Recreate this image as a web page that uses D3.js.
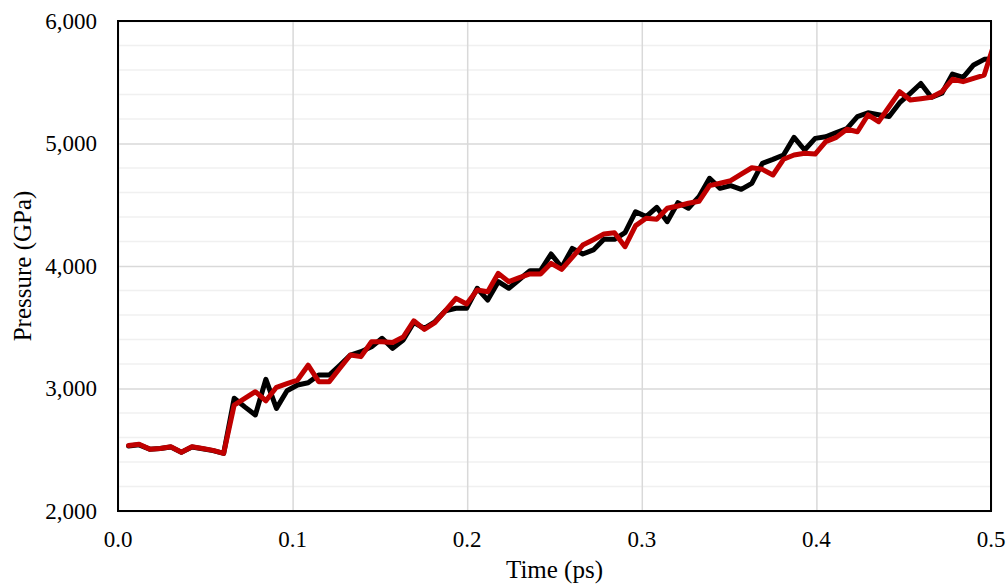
<!DOCTYPE html>
<html>
<head>
<meta charset="utf-8">
<script src="https://cdn.jsdelivr.net/npm/d3@7"></script>
<style>
	body { margin: 0; background: #fff; }
	text { font-family: "Liberation Serif", "Times New Roman", serif; fill: #000; }
	.tick-label { font-size: 23px; }
	.axis-title { font-size: 25px; }
</style>
</head>
<body>
<div id="svg"></div>
<script>
/* jshint esversion: 6 */

// Time (ps), one sample every ~6 fs
const times = [
	0.00605, 0.0121, 0.01815, 0.0242, 0.03025, 0.0363, 0.04235, 0.0484, 0.05445, 0.0605,
	0.06655, 0.0726, 0.07865, 0.0847, 0.09075, 0.0968, 0.10285, 0.1089, 0.11495, 0.121,
	0.12705, 0.1331, 0.13915, 0.1452, 0.15125, 0.1573, 0.16335, 0.1694, 0.17545, 0.1815,
	0.18755, 0.1936, 0.19965, 0.2057, 0.21175, 0.2178, 0.22385, 0.2299, 0.23595, 0.242,
	0.24805, 0.2541, 0.26015, 0.2662, 0.27225, 0.2783, 0.28435, 0.2904, 0.29645, 0.3025,
	0.30855, 0.3146, 0.32065, 0.3267, 0.33275, 0.3388, 0.34485, 0.3509, 0.35695, 0.363,
	0.36905, 0.3751, 0.38115, 0.3872, 0.39325, 0.3993, 0.40535, 0.4114, 0.41745, 0.4235,
	0.42955, 0.4356, 0.44165, 0.4477, 0.45375, 0.4598, 0.46585, 0.4719, 0.47795, 0.484,
	0.49005, 0.4961, 0.50215
];

// Pressure (GPa), black series
const pressureBlack = [
	2530, 2540, 2505, 2510, 2522, 2480, 2522, 2508, 2493, 2470,
	2920, 2850, 2784, 3075, 2838, 2982, 3029, 3047, 3110, 3110,
	3190, 3273, 3300, 3340, 3410, 3328, 3396, 3540, 3490, 3545,
	3635, 3655, 3655, 3818, 3722, 3872, 3818, 3890, 3962, 3962,
	4098, 3989, 4144, 4098, 4131, 4218, 4218, 4272, 4443, 4403,
	4479, 4362, 4517, 4471, 4566, 4716, 4634, 4656, 4626, 4675,
	4838, 4870, 4906, 5050, 4947, 5042, 5055, 5090, 5122, 5220,
	5251, 5235, 5220, 5333, 5410, 5490, 5377, 5410, 5567, 5540,
	5641, 5687, 5690
];

// Pressure (GPa), red series
const pressureRed = [
	2535, 2545, 2505, 2510, 2525, 2480, 2525, 2510, 2495, 2470,
	2865, 2920, 2974, 2900, 3010, 3040, 3069, 3190, 3056, 3056,
	3165, 3273, 3260, 3382, 3382, 3375, 3420, 3553, 3483, 3537,
	3636, 3736, 3690, 3804, 3790, 3940, 3872, 3905, 3935, 3935,
	4022, 3973, 4070, 4171, 4215, 4261, 4272, 4158, 4330, 4390,
	4382, 4471, 4490, 4512, 4528, 4656, 4676, 4696, 4750, 4802,
	4789, 4743, 4871, 4906, 4920, 4914, 5015, 5050, 5116, 5096,
	5233, 5178, 5300, 5423, 5355, 5366, 5377, 5423, 5524, 5505,
	5532, 5559, 5830
];

const xTicks = [0, 0.1, 0.2, 0.3, 0.4, 0.5];
const yTicks = [2000, 3000, 4000, 5000, 6000];
const yMinorTicks = d3.range(2000, 6001, 200);

(function() {
	function show() {

		/////////////////////////////////////////////////////////////////////////////
		//// Initial Set Up /////////////////////////////////////////////////////////
		/////////////////////////////////////////////////////////////////////////////

		const totalWidth = 1007,
					totalHeight = 585;

		const margin = {top: 21, right: 16, bottom: 74, left: 118},
					width = totalWidth - margin.left - margin.right,
					height = totalHeight - margin.top - margin.bottom;

		const xScale = d3.scaleLinear()
			.domain([0, 0.5])
			.range([0, width]);

		const yScale = d3.scaleLinear()
			.domain([2000, 6000])
			.range([height, 0]);

		const svg = d3.select("#svg")
			.append("svg")
				.attr("width", totalWidth)
				.attr("height", totalHeight);

		svg.append("defs")
			.append("clipPath")
				.attr("id", "plot-clip")
			.append("rect")
				.attr("width", width)
				.attr("height", height);

		const g = svg.append("g")
			.attr("transform", `translate(${margin.left}, ${margin.top})`);

		/////////////////////////////////////////////////////////////////////////////
		//// Grid ///////////////////////////////////////////////////////////////////
		/////////////////////////////////////////////////////////////////////////////

		// Minor horizontal lines
		g.append("g")
			.selectAll("line")
			.data(yMinorTicks.filter(d => d % 1000 !== 0))
			.enter()
			.append("line")
				.attr("x1", 0)
				.attr("x2", width)
				.attr("y1", d => yScale(d))
				.attr("y2", d => yScale(d))
				.attr("stroke", "#f0f0f0")
				.attr("stroke-width", 1.5);

		// Major horizontal lines
		g.append("g")
			.call(d3.axisLeft(yScale)
				.tickValues(yTicks)
				.tickSize(-width)
				.tickFormat(""))
			.call(a => a.select(".domain").remove())
			.call(a => a.selectAll("line")
				.attr("stroke", "#d9d9d9")
				.attr("stroke-width", 1.5));

		// Vertical lines
		g.append("g")
			.attr("transform", `translate(0, ${height})`)
			.call(d3.axisBottom(xScale)
				.tickValues(xTicks)
				.tickSize(-height)
				.tickFormat(""))
			.call(a => a.select(".domain").remove())
			.call(a => a.selectAll("line")
				.attr("stroke", "#d9d9d9")
				.attr("stroke-width", 1.5));

		/////////////////////////////////////////////////////////////////////////////
		//// Lines //////////////////////////////////////////////////////////////////
		/////////////////////////////////////////////////////////////////////////////

		const line = d3.line()
			.x(d => xScale(d[0]))
			.y(d => yScale(d[1]));

		const series = [
			{values: pressureBlack, color: "#000000"},
			{values: pressureRed, color: "#c00000"}
		];

		g.append("g")
			.attr("clip-path", "url(#plot-clip)")
			.selectAll("path")
			.data(series)
			.enter()
			.append("path")
				.attr("d", s => line(times.map((t, i) => [t, s.values[i]])))
				.attr("fill", "none")
				.attr("stroke", s => s.color)
				.attr("stroke-width", 5)
				.attr("stroke-linejoin", "round")
				.attr("stroke-linecap", "round");

		// Frame
		g.append("rect")
			.attr("width", width)
			.attr("height", height)
			.attr("fill", "none")
			.attr("stroke", "#000")
			.attr("stroke-width", 2);

		/////////////////////////////////////////////////////////////////////////////
		//// Axes labels ////////////////////////////////////////////////////////////
		/////////////////////////////////////////////////////////////////////////////

		g.append("g")
			.selectAll("text")
			.data(yTicks)
			.enter()
			.append("text")
				.attr("class", "tick-label")
				.attr("x", -21)
				.attr("y", d => yScale(d))
				.attr("dy", "0.33em")
				.style("text-anchor", "end")
				.text(d3.format(","));

		g.append("g")
			.selectAll("text")
			.data(xTicks)
			.enter()
			.append("text")
				.attr("class", "tick-label")
				.attr("x", d => xScale(d))
				.attr("y", height + 36)
				.style("text-anchor", "middle")
				.text(d3.format(".1f"));

		g.append("text")
			.attr("class", "axis-title")
			.attr("x", width / 2)
			.attr("y", height + 67)
			.style("text-anchor", "middle")
			.text("Time (ps)");

		g.append("text")
			.attr("class", "axis-title")
			.attr("transform", `translate(${31 - margin.left}, ${height / 2}) rotate(-90)`)
			.style("text-anchor", "middle")
			.text("Pressure (GPa)");
	}

	show();
})();
</script>
</body>
</html>
